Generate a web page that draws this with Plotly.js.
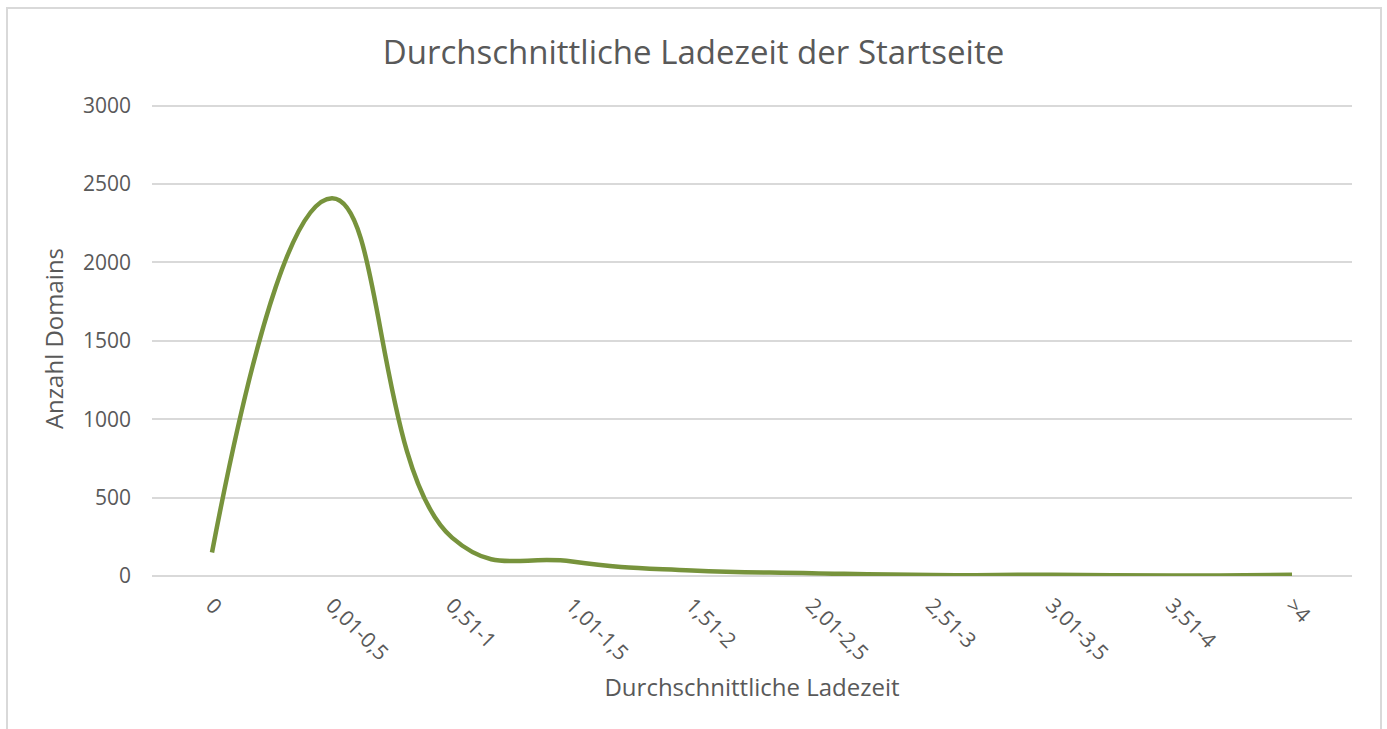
<!DOCTYPE html>
<html>
<head>
<meta charset="utf-8">
<script src="https://cdn.plot.ly/plotly-3.0.1.min.js"></script>
<style>
html,body{margin:0;padding:0;background:#fff;}
#chart{width:1387px;height:729px;}
</style>
</head>
<body>
<div id="chart"></div>
<script>
const categories = ["0", "0,01-0,5", "0,51-1", "1,01-1,5", "1,51-2", "2,01-2,5", "2,51-3", "3,01-3,5", "3,51-4", ">4"];
const domainCounts = [150, 2410, 245, 92, 35, 18, 6, 8, 3, 8];
const yTickValues = [0, 500, 1000, 1500, 2000, 2500, 3000];

const FONT = "'Open Sans', sans-serif";
const TXT = "#595959";

const trace = {
  x: categories,
  y: domainCounts,
  type: "scatter",
  mode: "lines",
  line: {color: "#77933C", width: 4.5, shape: "spline", smoothing: 1.3},
  hoverinfo: "x+y"
};

const layout = {
  width: 1387,
  height: 729,
  margin: {l: 152, r: 35, t: 101, b: 153},
  paper_bgcolor: "#ffffff",
  plot_bgcolor: "#ffffff",
  showlegend: false,
  font: {family: FONT, color: TXT},
  title: {
    text: "Durchschnittliche Ladezeit der Startseite",
    font: {family: FONT, size: 33, color: TXT},
    x: 0.5, xref: "container", xanchor: "center",
    y: 0.928, yref: "container", yanchor: "middle"
  },
  xaxis: {
    type: "category",
    range: [-0.5, 9.5],
    tickangle: 45,
    tickfont: {family: FONT, size: 21, color: TXT},
    showgrid: false,
    zeroline: false,
    showline: false,
    ticks: "",
    ticklabelstandoff: 12,
    title: {text: "Durchschnittliche Ladezeit", font: {family: FONT, size: 24, color: TXT}, standoff: 14}
  },
  yaxis: {
    range: [0, 3030],
    tickvals: yTickValues,
    ticktext: yTickValues.map(String),
    tickfont: {family: FONT, size: 21, color: TXT},
    showgrid: true,
    gridcolor: "#d9d9d9",
    gridwidth: 1.5,
    zeroline: true,
    zerolinecolor: "#d9d9d9",
    zerolinewidth: 1.5,
    showline: false,
    ticks: "",
    ticklabelstandoff: 20,
    title: {text: "Anzahl Domains", font: {family: FONT, size: 24, color: TXT}, standoff: 12}
  },
  shapes: [{
    type: "rect", xref: "paper", yref: "paper",
    x0: (7 - 152) / 1200, x1: (1381 - 152) / 1200,
    y0: (576 - 760) / 475, y1: (576 - 8) / 475,
    line: {color: "#d9d9d9", width: 2},
    fillcolor: "rgba(0,0,0,0)",
    layer: "below"
  }]
};

Plotly.newPlot("chart", [trace], layout, {displayModeBar: false});
</script>
</body>
</html>
